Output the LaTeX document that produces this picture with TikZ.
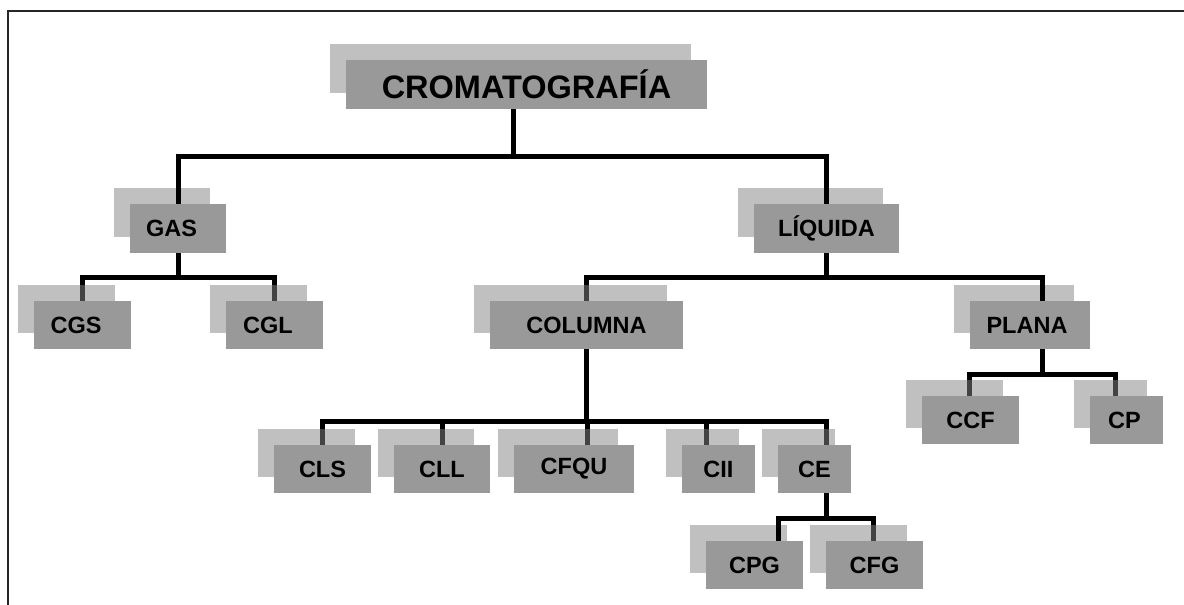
\documentclass[tikz,border=0pt]{standalone}
\usepackage{fontspec}
\setmainfont{Liberation Sans}
\pgfdeclarelayer{under}
\pgfdeclarelayer{shade}
\pgfdeclarelayer{over}
\pgfsetlayers{under,shade,over,main}
\definecolor{boxgray}{RGB}{153,153,153}
\definecolor{shadegray}{RGB}{132,132,132}
\tikzset{
  box/.style={fill=boxgray, draw=none, inner sep=0pt, minimum height=48pt,
    font=\bfseries\fontsize{23.5}{27}\selectfont, text=black},
  titlebox/.style={box, font=\bfseries\fontsize{32.5}{36}\selectfont},
  shadebox/.style={fill=shadegray, fill opacity=0.514},
  conn/.style={line width=5pt, black, line join=miter},
  frameline/.style={line width=2.5pt, black!85, line join=miter}
}
% label set a little left of the box centre
\newcommand{\leftish}[1]{#1\hspace*{13pt}}
\begin{document}
\begin{tikzpicture}[x=1pt, y=-1pt]
\useasboundingbox (0,0) rectangle (1184,605);
% page frame
\draw[frameline] (8,606) -- (8,11) -- (1185,11);

% boxes
\node[titlebox, minimum width=361pt, minimum height=49pt] (crom) at (526.5,84.5) {CROMATOGRAFÍA};
\node[box, minimum width=96pt, minimum height=49pt] (gas) at (178,228.5) {\leftish{GAS}};
\node[box, minimum width=145pt, minimum height=49pt] (liq) at (826.5,228.5) {LÍQUIDA};
\node[box, minimum width=97pt] (cgs) at (82.5,325) {\leftish{CGS}};
\node[box, minimum width=97pt] (cgl) at (274.5,325) {\leftish{CGL}};
\node[box, minimum width=193pt] (col) at (586.5,325) {COLUMNA};
\node[box, minimum width=120pt] (plana) at (1030,325) {\hspace*{-0pt}PLANA\hspace*{6pt}};
\node[box, minimum width=97pt] (ccf) at (970.5,420) {CCF};
\node[box, minimum width=73pt] (cp) at (1126.5,420) {CP\hspace*{4pt}};
\node[box, minimum width=97pt] (cls) at (322.5,469) {CLS};
\node[box, minimum width=96pt] (cll) at (442,469) {CLL};
\node[box, minimum width=120pt] (cfqu) at (574,469) {CFQU};
\node[box, minimum width=73pt] (cii) at (718.5,469) {CII};
\node[box, minimum width=73pt] (ce) at (814.5,469) {CE};
\node[box, minimum width=97pt] (cpg) at (754.5,565) {CPG};
\node[box, minimum width=97pt] (cfg) at (874.5,565) {CFG};

% offset shadows behind each box
\begin{pgfonlayer}{shade}
\foreach \n in {crom,gas,liq,cgs,cgl,col,plana,ccf,cp,cls,cll,cfqu,cii,ce,cpg,cfg}
  \fill[shadebox] ([shift={(-16,-16)}]\n.south west) rectangle ([shift={(-16,-16)}]\n.north east);
\end{pgfonlayer}

% connectors passing beneath the shadows
\begin{pgfonlayer}{under}
\draw[conn] (gas.south) -- ++(0,24) -| (cgs.north);
\draw[conn] (gas.south) -- ++(0,24) -| (cgl.north);
\draw[conn] (liq.south) -- ++(0,24) -| (col.north);
\draw[conn] ([xshift=12pt]plana.south) -- ++(0,25) -| ([xshift=-1.5pt]ccf.north);
\draw[conn] ([xshift=12pt]plana.south) -- ++(0,25) -| ([xshift=-11.5pt]cp.north);
\draw[conn] (col.south) -- ++(0,72) -| (cls.north);
\draw[conn] (col.south) -- ++(0,72) -| (cll.north);
\draw[conn] (col.south) -- ++(0,72) -| ([xshift=13pt]cfqu.north);
\draw[conn] (col.south) -- ++(0,72) -| ([xshift=-12.5pt]cii.north);
\draw[conn] (col.south) -- ++(0,72) -| ([xshift=11.5pt]ce.north);
\draw[conn] ([xshift=11.5pt]ce.south) -- ++(0,25) -| ([xshift=-1.5pt]cfg.north);
\end{pgfonlayer}

% connectors drawn over the shadows
\begin{pgfonlayer}{over}
\draw[conn] ([xshift=-13.5pt]crom.south) -- ++(0,47) -| (gas.north);
\draw[conn] ([xshift=-13.5pt]crom.south) -- ++(0,47) -| (liq.north);
\draw[conn] (liq.south) -- ++(0,24) -| ([xshift=12pt]plana.north);
\draw[conn] ([xshift=11.5pt]ce.south) -- ++(0,25) -| ([xshift=23.5pt]cpg.north);
\end{pgfonlayer}
\end{tikzpicture}
\end{document}
